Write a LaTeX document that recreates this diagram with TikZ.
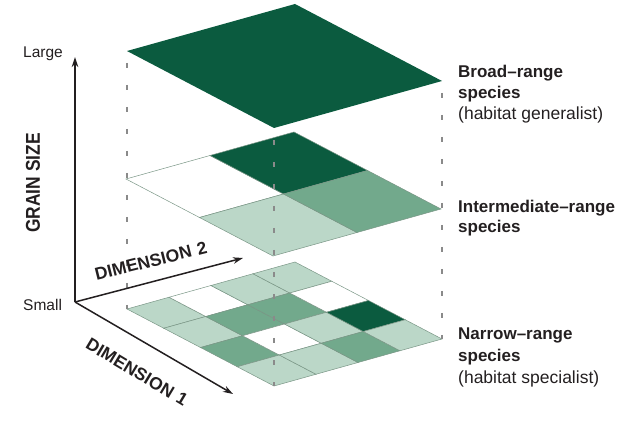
\documentclass[tikz,border=0pt]{standalone}
\usepackage{fontspec}
\usepackage{graphicx}
\setmainfont{Liberation Sans}
\usetikzlibrary{arrows.meta,calc}
\definecolor{gD}{HTML}{0B5B3F}
\definecolor{gM}{HTML}{72A98C}
\definecolor{gL}{HTML}{BBD7C8}
\definecolor{gridc}{HTML}{7A9686}
\definecolor{ink}{HTML}{231F20}
\definecolor{guidec}{HTML}{8A8A8A}
\begin{document}
\begin{tikzpicture}[x=1pt,y=-1pt,
  lbl/.style={inner sep=0pt, anchor=base west, text=ink},
  boldlbl/.style={lbl, font=\fontsize{17}{20}\selectfont\bfseries},
  reglbl/.style={lbl, font=\fontsize{17.5}{20}\selectfont},
  smalllbl/.style={lbl, font=\fontsize{15.5}{18}\selectfont},
  dimlbl/.style={inner sep=0pt, text=ink, font=\fontsize{17.5}{18}\selectfont\bfseries},
  axisline/.style={draw=ink, line width=1.5pt, -{Stealth[length=10pt,width=6.5pt]}},
  guide/.style={draw=guidec, line width=1.2pt, dash pattern=on 5pt off 17pt, dash phase=-12pt},
  cellc/.style={draw=gridc, line width=0.5pt}
]
\useasboundingbox (0,0) rectangle (634,427);

% top plane (broad range)
\begin{scope}[shift={(127pt,-51pt)}, x={(147pt,-77pt)}, y={(168pt,47pt)}]
  \fill[gD] (0,0) -- (1,0) -- (1,1) -- (0,1) -- cycle;
\end{scope}

% middle plane (intermediate range)
\begin{scope}[shift={(126pt,-179pt)}, x={(147pt,-77pt)}, y={(168pt,47pt)}]
  \foreach \i/\j/\c in {0/0/white,0/1/gD,1/0/gL,1/1/gM}
    \filldraw[fill=\c, cellc] (\i/2,\j/2) -- ++(0.5,0) -- ++(0,0.5) -- ++(-0.5,0) -- cycle;
\end{scope}

% bottom plane (narrow range)
\begin{scope}[shift={(127pt,-309pt)}, x={(147pt,-77pt)}, y={(168pt,47pt)}]
  \foreach \i/\j/\c in {0/0/gL,0/1/white,0/2/gL,0/3/gL,
                        1/0/gL,1/1/gM,1/2/gM,1/3/white,
                        2/0/gM,2/1/white,2/2/gL,2/3/gD,
                        3/0/gL,3/1/gL,3/2/gM,3/3/gL}
    \filldraw[fill=\c, cellc] (\i/4,\j/4) -- ++(0.25,0) -- ++(0,0.25) -- ++(-0.25,0) -- cycle;
\end{scope}

% plane corners
\coordinate (TL) at (127,51);
\coordinate (TB) at (274,128);
\coordinate (TR) at (442,81);
\coordinate (BL) at (127,309);
\coordinate (BB) at (274,386);
\coordinate (BR) at (442,339);

% dashed guides
\draw[guide] (TL) -- (BL);
\draw[guide] (TB) -- (BB);
\draw[guide] (TR) -- (BR);

% axes
\coordinate (O) at (75,302);
\coordinate (Ytip) at (75,57);
\coordinate (D2tip) at (243,258);
\coordinate (D1tip) at (233,394);
\draw[axisline] (O) -- (Ytip);
\draw[axisline] (O) -- (D2tip);
\draw[axisline] (O) -- (D1tip);

% axis labels
\node[smalllbl] (large) at (23,58) {Large};
\node[smalllbl] (small) at (23,311) {Small};
\node[inner sep=0pt, text=ink, rotate=90, font=\fontsize{20}{20}\selectfont\bfseries] (grain) at (33,183) {\scalebox{0.87}[1]{GRAIN SIZE}};
\node[dimlbl, rotate=14] (dim2) at (151,261) {DIMENSION\hspace{6pt}2};
\node[dimlbl, rotate=-31] (dim1) at (137,372) {DIMENSION\hspace{6pt}1};

% right labels
\node[boldlbl] (b1) at (458,78) {Broad–range};
\node[boldlbl] (b2) at (458,99) {species};
\node[reglbl] (b3) at (458,120) {(habitat generalist)};
\node[boldlbl] (i1) at (458,213) {Intermediate–range};
\node[boldlbl] (i2) at (458,233) {species};
\node[boldlbl] (n1) at (458,340) {Narrow–range};
\node[boldlbl] (n2) at (458,361) {species};
\node[reglbl] (n3) at (458,383) {(habitat specialist)};
\end{tikzpicture}
\end{document}
